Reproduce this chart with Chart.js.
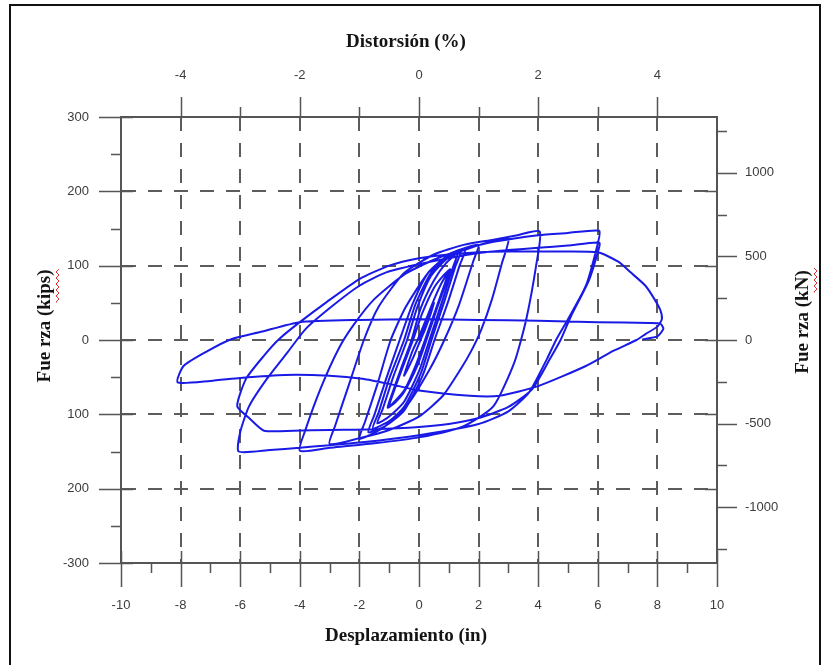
<!DOCTYPE html>
<html>
<head>
<meta charset="utf-8">
<title>Fuerza - Desplazamiento</title>
<script src="https://cdn.jsdelivr.net/npm/chart.js@4.4.0/dist/chart.umd.min.js"></script>
<style>
  html, body { margin: 0; padding: 0; background: #fff; }
  #wrap { width: 829px; height: 665px; position: relative; }
</style>
</head>
<body>
<div id="wrap"><canvas id="chart" width="829" height="665"></canvas></div>
<script>
'use strict';

// Tick labels (the left axis really prints 100 / 200 without the minus sign)
var xTickValues = [-10, -8, -6, -4, -2, 0, 2, 4, 6, 8, 10];
var xTickLabels = ['-10', '-8', '-6', '-4', '-2', '0', '2', '4', '6', '8', '10'];
var driftTickValues = [-4, -2, 0, 2, 4];
var driftTickLabels = ['-4', '-2', '0', '2', '4'];
var kipsTickValues = [300, 200, 100, 0, -100, -200, -300];
var kipsTickLabels = ['300', '200', '100', '0', '100', '200', '-300'];
var kNTickValues = [1000, 500, 0, -500, -1000];
var kNTickLabels = ['1000', '500', '0', '-500', '-1000'];
var KIPS_TO_KN = 4.448;

// Hysteresis record, [displacement (in), force (kips)], in loading order
var cycleSmall = [
  [0, 0], [0.25, 26], [0.5, 50], [0.4, 36], [0.2, 14], [0.05, 0], [-0.2, -24], [-0.5, -48], [-0.4, -35], [-0.2, -13], [-0.05, 0],
  [0.2, 24], [0.5, 54], [0.75, 76], [1.0, 93], [0.85, 74], [0.55, 40], [0.2, 0], [-0.1, -33], [-0.5, -68], [-1.0, -89], [-0.85, -70], [-0.55, -37], [-0.2, 0],
  [0.1, 35], [0.5, 70], [0.8, 86], [1.05, 95], [0.9, 76], [0.6, 42], [0.25, 0], [-0.05, -34], [-0.5, -70], [-0.8, -84], [-1.05, -91], [-0.9, -72], [-0.6, -38], [-0.25, 0]
];
var cycle15 = [
  [0.05, 42], [0.5, 80], [0.9, 103], [1.3, 117], [1.15, 99], [0.8, 55], [0.35, 0], [0, -42], [-0.5, -83], [-1.0, -103], [-1.4, -112], [-1.22, -93], [-0.85, -48], [-0.4, 0],
  [-0.05, 45], [0.4, 86], [0.9, 108], [1.4, 119], [1.22, 99], [0.86, 53], [0.42, 0], [0.05, -46], [-0.5, -90], [-1.0, -109], [-1.55, -119], [-1.35, -97], [-0.98, -50], [-0.5, 0],
  [-0.12, 48], [0.4, 90], [1.0, 113], [1.55, 122], [1.37, 101], [0.98, 52], [0.52, 0], [0.12, -48], [-0.5, -95], [-1.1, -115], [-1.7, -124], [-1.5, -101], [-1.1, -52], [-0.65, 0]
];
var cycle2 = [
  [-0.2, 50], [0.3, 90], [1.0, 115], [1.5, 123], [2.0, 128], [1.82, 106], [1.35, 48], [0.85, 0], [0.35, -40], [-0.4, -88], [-1.2, -118], [-2.0, -133],
  [-1.82, -111], [-1.4, -60], [-0.95, 0], [-0.45, 44], [0.3, 90], [1.0, 113], [1.6, 122]
];
var cycle3 = [
  [2.2, 130], [3.0, 137], [2.78, 103], [2.45, 55], [2.1, 15], [1.75, -15], [1.4, -39], [0.8, -75], [0, -103], [-1.0, -121], [-2.0, -132], [-3.0, -140],
  [-2.82, -116], [-2.35, -60], [-1.85, 0], [-1.35, 45], [-0.5, 90], [0.5, 115], [1.5, 128], [2.5, 135]
];
var cycle4 = [
  [3.3, 141], [4.05, 146], [3.95, 105], [3.6, 28], [3.2, -30], [2.5, -89], [1.5, -116], [0, -131], [-1.5, -139], [-3.0, -145], [-4.0, -149],
  [-3.82, -122], [-3.3, -65], [-2.7, -12], [-2.2, 20], [-1.5, 55], [-0.5, 88], [0.5, 108], [1.5, 122], [2.5, 132], [4.0, 141], [5.0, 144]
];
var cycle6 = [
  [6.05, 147], [6.0, 130], [5.6, 73], [5.0, 28], [4.6, 0], [4.3, -25], [3.7, -70], [3.0, -96], [2.0, -113], [0, -128], [-2.0, -138], [-4.0, -145], [-5.0, -148], [-6.05, -150],
  [-6.0, -124], [-5.7, -89], [-5.1, -52], [-4.4, -16], [-3.8, 15], [-2.9, 46], [-2.0, 73], [-1.1, 91], [0, 102], [1.0, 110], [2.0, 117], [3.0, 121], [4.0, 124], [5.0, 127], [6.05, 131],
  [6.0, 118], [5.7, 80], [5.1, 32], [4.75, 0], [4.4, -25], [3.8, -66], [3.0, -90], [2.0, -105], [1.0, -113], [0, -117], [-1.5, -120], [-3.0, -121], [-4.2, -122], [-5.2, -122], [-5.7, -105], [-6.1, -89]
];
var cycle8 = [
  [-5.8, -52], [-5.2, -21], [-4.7, 1], [-4.0, 24], [-3.1, 51], [-2.0, 82], [-1.0, 100], [0, 110], [1.0, 115], [2.0, 118], [3.0, 119], [4.5, 119], [6.0, 118],
  [6.7, 105], [7.1, 91], [7.6, 73], [7.9, 55], [8.1, 40], [8.15, 28],
  [8.0, 18], [7.6, 8], [7.3, 0], [6.5, -15], [5.6, -35], [4.0, -62], [2.7, -75], [1.7, -75], [0, -68], [-1.0, -59], [-1.9, -52], [-3.0, -48], [-4.5, -47], [-6.0, -51], [-7.0, -55], [-8.1, -57],
  [-7.9, -35], [-7.1, -15], [-6.3, 1], [-5.3, 11], [-4.0, 24], [-2.0, 27], [0, 28], [2.0, 27], [4.0, 26], [6.0, 24], [7.75, 23], [8.1, 22], [8.2, 15], [8.0, 5], [7.5, 1]
];

var stages = [cycleSmall, cycle15, cycle2, cycle3, cycle4, cycle6, cycle8];
var points = [];
stages.forEach(function (stage) {
  stage.forEach(function (p) {
    points.push({x: p[0], y: p[1]});
  });
});

var gridColor = '#5c5c5c';
var frameColor = '#555';
var tickFont = {family: "'Liberation Sans', Arial, sans-serif", size: 13};
var titleFont = "bold 19px 'Liberation Serif', 'Times New Roman', serif";

var labelFor = function (values, labels) {
  return function (value) {
    var i = values.indexOf(value);
    return i < 0 ? '' : labels[i];
  };
};

var setTicks = function (values) {
  return function (scale) {
    scale.ticks = values.map(function (v) { return {value: v}; });
  };
};

// tick marks, titles, outer frame
var decoPlugin = {
  id: 'deco',
  afterDraw: function (chart) {
    var ctx = chart.ctx;
    var area = chart.chartArea;
    var sx = chart.scales.x, sy = chart.scales.y, st = chart.scales.xTop, sk = chart.scales.yKN;
    var v, p;

    ctx.save();
    ctx.strokeStyle = frameColor;
    ctx.lineWidth = 1.5;
    ctx.beginPath();
    for (v = -300; v <= 300; v += 50) {
      p = Math.round(sy.getPixelForValue(v)) + 0.5;
      if (v % 100 === 0) {
        ctx.moveTo(area.left - 22, p); ctx.lineTo(area.left + 12, p);
      } else {
        ctx.moveTo(area.left - 10, p); ctx.lineTo(area.left, p);
      }
    }
    for (v = -10; v <= 10; v += 1) {
      p = Math.round(sx.getPixelForValue(v)) + 0.5;
      if (v % 2 === 0) {
        ctx.moveTo(p, area.bottom - 12); ctx.lineTo(p, area.bottom + 24);
      } else {
        ctx.moveTo(p, area.bottom); ctx.lineTo(p, area.bottom + 10);
      }
    }
    for (v = -4; v <= 4; v += 1) {
      p = Math.round(st.getPixelForValue(v)) + 0.5;
      ctx.moveTo(p, area.top);
      ctx.lineTo(p, area.top - (v % 2 === 0 ? 20 : 10));
    }
    for (v = -1250; v <= 1250; v += 250) {
      p = Math.round(sk.getPixelForValue(v)) + 0.5;
      ctx.moveTo(area.right, p);
      ctx.lineTo(area.right + (v % 500 === 0 ? 20 : 10), p);
    }
    for (v = -200; v <= 200; v += 100) {
      p = Math.round(sy.getPixelForValue(v)) + 0.5;
      ctx.moveTo(area.right - 12, p); ctx.lineTo(area.right, p);
    }
    ctx.stroke();

    // axis titles
    ctx.fillStyle = '#141414';
    ctx.font = titleFont;
    ctx.textAlign = 'center';
    ctx.textBaseline = 'middle';
    ctx.fillText('Distorsión (%)', 406, 42);
    ctx.fillText('Desplazamiento (in)', 406, 636);
    ctx.save();
    ctx.translate(45, 326);
    ctx.rotate(-Math.PI / 2);
    ctx.fillText('Fue rza (kips)', 0, 0);
    ctx.restore();
    ctx.save();
    ctx.translate(803, 322);
    ctx.rotate(-Math.PI / 2);
    ctx.fillText('Fue rza (kN)', 0, 0);
    ctx.restore();

    // spell-check squiggles under "kips" and "kN"
    ctx.strokeStyle = '#e03030';
    ctx.lineWidth = 1;
    var squiggle = function (x, y0, y1) {
      ctx.beginPath();
      ctx.moveTo(x, y0);
      var k = 0;
      for (var y = y0; y >= y1; y -= 3) {
        ctx.lineTo(x + (k % 2 ? 2 : -1), y);
        k++;
      }
      ctx.stroke();
    };
    squiggle(57, 302, 268);
    squiggle(815, 292, 268);

    // outer frame
    ctx.strokeStyle = '#111';
    ctx.lineWidth = 2;
    ctx.beginPath();
    ctx.moveTo(10, 665); ctx.lineTo(10, 5); ctx.lineTo(820, 5); ctx.lineTo(820, 665);
    ctx.stroke();
    ctx.restore();
  }
};

var ctx = document.getElementById('chart').getContext('2d');

var hysteresisChart = new Chart(ctx, {
  type: 'scatter',
  data: {
    datasets: [{
      label: 'Fuerza',
      data: points,
      showLine: true,
      borderColor: 'rgb(26, 26, 230)',
      borderWidth: 2,
      pointRadius: 0,
      tension: 0.2,
      fill: false
    }]
  },
  options: {
    responsive: false,
    animation: false,
    events: [],
    layout: {padding: 0},
    plugins: {
      legend: {display: false},
      tooltip: {enabled: false}
    },
    scales: {
      x: {
        type: 'linear',
        position: 'bottom',
        min: -10,
        max: 10,
        afterBuildTicks: setTicks(xTickValues),
        afterFit: function (s) { s.height = 102; },
        ticks: {callback: labelFor(xTickValues, xTickLabels), color: '#3c3c3c', font: tickFont, padding: 11, maxRotation: 0, autoSkip: false},
        grid: {
          color: function (c) { return c.tick && Math.abs(c.tick.value) < 10 ? gridColor : 'transparent'; },
          lineWidth: 2,
          tickLength: 24,
          tickColor: 'transparent'
        },
        border: {display: true, color: frameColor, width: 2, dash: [14, 12]}
      },
      xTop: {
        type: 'linear',
        position: 'top',
        min: -5,
        max: 5,
        afterBuildTicks: setTicks(driftTickValues),
        afterFit: function (s) { s.height = 117; },
        ticks: {callback: labelFor(driftTickValues, driftTickLabels), color: '#3c3c3c', font: tickFont, padding: 14, maxRotation: 0, autoSkip: false},
        grid: {drawOnChartArea: false, tickLength: 20, tickColor: 'transparent'},
        border: {display: true, color: frameColor, width: 2}
      },
      y: {
        type: 'linear',
        position: 'left',
        min: -300,
        max: 300,
        afterBuildTicks: setTicks(kipsTickValues),
        afterFit: function (s) { s.width = 121; },
        ticks: {callback: labelFor(kipsTickValues, kipsTickLabels), color: '#3c3c3c', font: tickFont, padding: 10, autoSkip: false},
        grid: {
          color: function (c) { return c.tick && Math.abs(c.tick.value) < 300 ? gridColor : 'transparent'; },
          lineWidth: 2,
          tickLength: 22,
          tickColor: 'transparent'
        },
        border: {display: true, color: frameColor, width: 2, dash: [14, 12]}
      },
      yKN: {
        type: 'linear',
        position: 'right',
        min: -300 * KIPS_TO_KN,
        max: 300 * KIPS_TO_KN,
        afterBuildTicks: setTicks(kNTickValues),
        afterFit: function (s) { s.width = 112; },
        ticks: {callback: labelFor(kNTickValues, kNTickLabels), color: '#3c3c3c', font: tickFont, padding: 8, autoSkip: false},
        grid: {drawOnChartArea: false, tickLength: 20, tickColor: 'transparent'},
        border: {display: true, color: frameColor, width: 2}
      }
    }
  },
  plugins: [decoPlugin]
});
</script>
</body>
</html>
